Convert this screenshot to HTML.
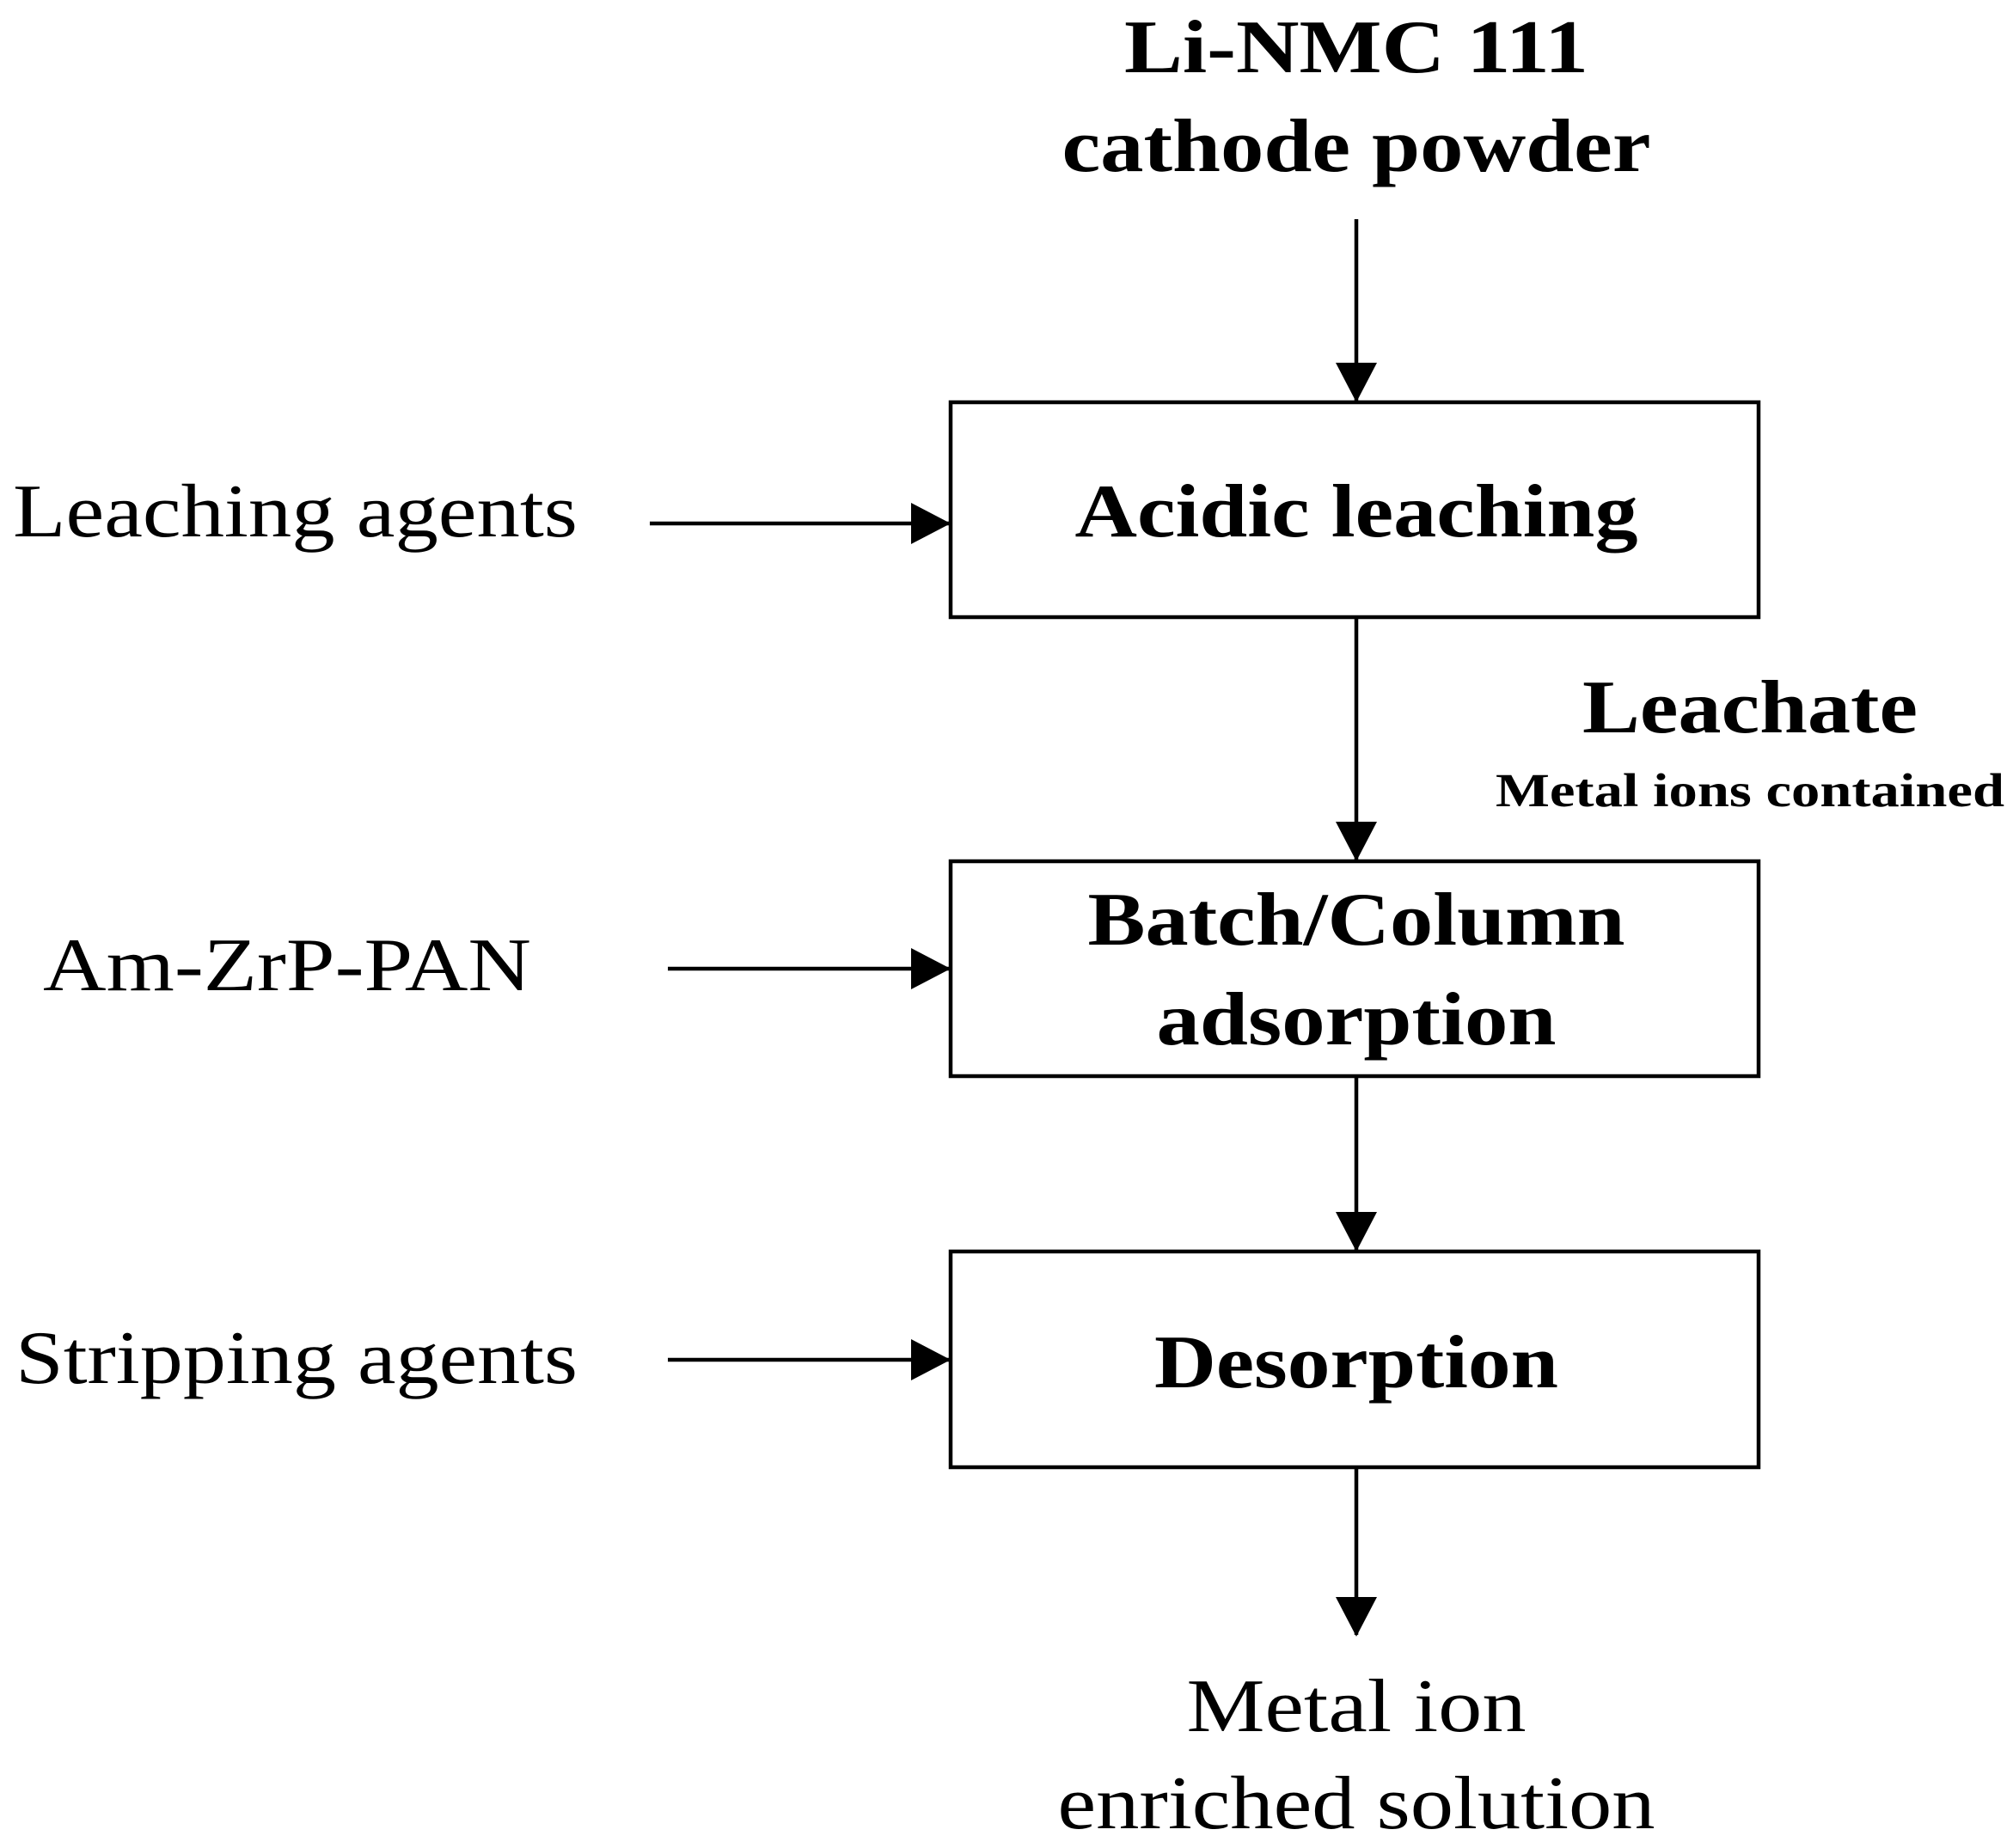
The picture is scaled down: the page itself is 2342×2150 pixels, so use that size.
<!DOCTYPE html>
<html><head><meta charset="utf-8"><style>html,body{margin:0;padding:0;background:#fff}svg{display:block}</style></head>
<body>
<svg width="2342" height="2150" viewBox="0 0 2342 2150" xmlns="http://www.w3.org/2000/svg" font-family="'Liberation Serif', serif">
<defs>
<marker id="a" markerUnits="userSpaceOnUse" markerWidth="48" markerHeight="48" refX="44" refY="24" orient="auto">
<path d="M0,0 L46,24 L0,48 Z" fill="#000"/>
</marker>
</defs>
<g transform="translate(-4,-3)">
<g stroke="#000" stroke-width="4.5" fill="none">
<rect x="1110" y="471" width="940" height="250"/>
<rect x="1110" y="1005" width="940" height="250"/>
<rect x="1110" y="1459" width="940" height="251"/>
<line x1="1582" y1="258" x2="1582" y2="469" marker-end="url(#a)"/>
<line x1="1582" y1="721" x2="1582" y2="1003" marker-end="url(#a)"/>
<line x1="1582" y1="1255" x2="1582" y2="1457" marker-end="url(#a)"/>
<line x1="1582" y1="1710" x2="1582" y2="1905" marker-end="url(#a)"/>
<line x1="760" y1="612" x2="1108" y2="612" marker-end="url(#a)"/>
<line x1="781" y1="1130" x2="1108" y2="1130" marker-end="url(#a)"/>
<line x1="781" y1="1585" x2="1108" y2="1585" marker-end="url(#a)"/>
</g>
<g font-size="88" text-anchor="middle">
<text x="1582" y="87" font-weight="bold" textLength="540" lengthAdjust="spacingAndGlyphs">Li-NMC 111</text>
<text x="1582" y="202" font-weight="bold" textLength="685" lengthAdjust="spacingAndGlyphs">cathode powder</text>
<text x="1582" y="627" font-weight="bold" textLength="655" lengthAdjust="spacingAndGlyphs">Acidic leaching</text>
<text x="1582" y="1102" font-weight="bold" textLength="625" lengthAdjust="spacingAndGlyphs">Batch/Column</text>
<text x="1582" y="1218" font-weight="bold" textLength="465" lengthAdjust="spacingAndGlyphs">adsorption</text>
<text x="1582" y="1617" font-weight="bold" textLength="470" lengthAdjust="spacingAndGlyphs">Desorption</text>
<text x="2040" y="855" font-weight="bold" textLength="390" lengthAdjust="spacingAndGlyphs">Leachate</text>
<text x="1582" y="2017" textLength="395" lengthAdjust="spacingAndGlyphs">Metal ion</text>
<text x="1582" y="2130" textLength="695" lengthAdjust="spacingAndGlyphs">enriched solution</text>
</g>
<text x="2040" y="941" font-size="55" font-weight="bold" text-anchor="middle" textLength="592" lengthAdjust="spacingAndGlyphs">Metal ions contained</text>
<g font-size="88">
<text x="19" y="627" textLength="657" lengthAdjust="spacingAndGlyphs">Leaching agents</text>
<text x="54" y="1155" textLength="568" lengthAdjust="spacingAndGlyphs">Am-ZrP-PAN</text>
<text x="22" y="1612" textLength="654" lengthAdjust="spacingAndGlyphs">Stripping agents</text>
</g>
</g>
</svg>
</body></html>
